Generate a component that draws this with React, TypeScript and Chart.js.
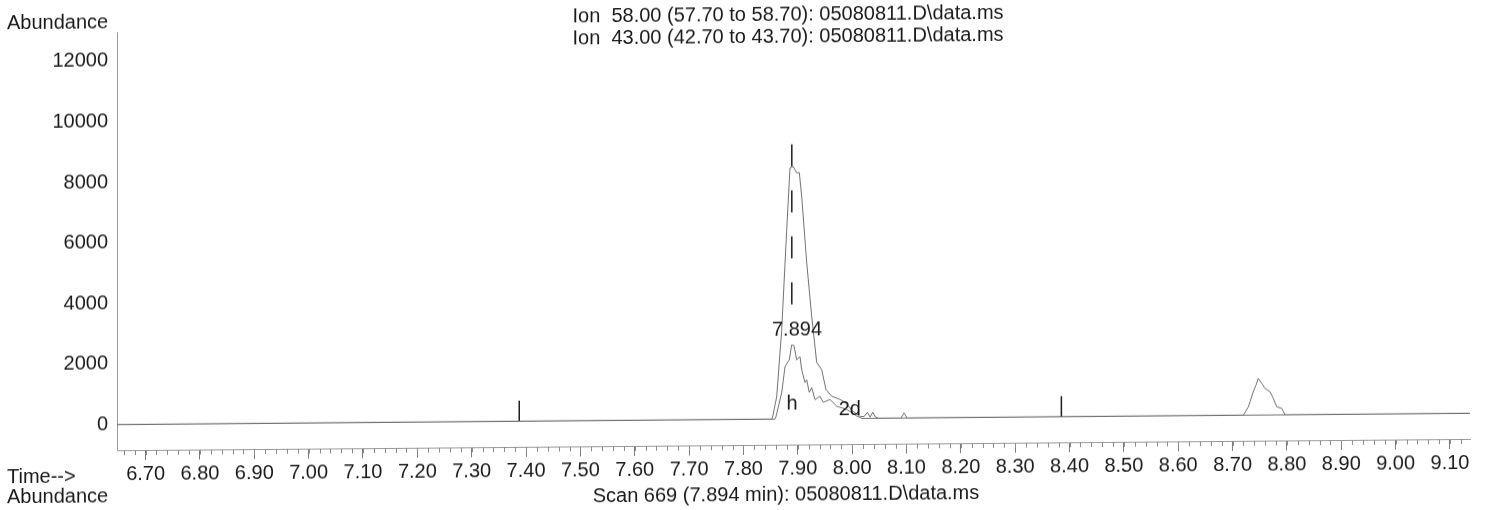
import React, { useEffect, useRef } from 'react';
import { Chart, registerables } from 'chart.js';

Chart.register(...registerables);

// ---- data (retention time in minutes, abundance) ----
const ION58_TIME = [
  6.6474, 7.852, 7.8538, 7.8612, 7.8704, 7.8796, 7.8857, 7.8917, 7.898, 7.9028,
  7.9072, 7.9164, 7.9256, 7.9348, 7.944, 7.9519, 7.9624, 7.9777, 7.985, 7.993,
  8.0, 8.008, 8.015, 8.022, 8.028, 8.033, 8.038, 8.043, 8.049, 8.09, 8.0955, 8.101,
  8.7197, 8.7289, 8.7381, 8.7431, 8.7473, 8.7536, 8.7596, 8.7688, 8.7749, 8.7812,
  8.7904, 8.7965, 9.1368,
];
const ION58_ABUND = [
  0, 0, 80, 740, 2940, 6240, 8290, 8330, 8120, 8130,
  7340, 5160, 3380, 1860, 1620, 960, 740, 630, 560, 420,
  260, 150, 60, 60, 200, 40, 200, 40, 0, 0, 170, 0,
  0, 270, 770, 990, 1210, 1050, 880, 770, 550, 270,
  220, 0, 0,
];
const ION43_TIME = [
  6.6474, 7.858, 7.8599, 7.8704, 7.8765, 7.8807, 7.8844, 7.8888, 7.893, 7.898,
  7.904, 7.9072, 7.9132, 7.9164, 7.9212, 7.9256, 7.9317, 7.9409, 7.9469, 7.9593,
  7.9716, 7.99, 8.0084, 8.018, 9.1368,
];
const ION43_ABUND = [
  0, 0, 80, 870, 1730, 1860, 1950, 2450, 2420, 1950,
  2060, 1620, 1200, 1290, 870, 1030, 630, 740, 540, 630,
  410, 300, 80, 0, 0,
];
const MARKER_TIMES = [7.3875, 8.385];
const MARKER_HEIGHT = 680;
const RT_TIME = 7.889;
const RT_RANGE = [9060, 3550];
const X_TICKS = [
  6.7, 6.8, 6.9, 7.0, 7.1, 7.2, 7.3, 7.4, 7.5, 7.6, 7.7, 7.8, 7.9,
  8.0, 8.1, 8.2, 8.3, 8.4, 8.5, 8.6, 8.7, 8.8, 8.9, 9.0, 9.1,
];
const Y_TICKS = [0, 2000, 4000, 6000, 8000, 10000, 12000];
const X_MIN = 6.6474;
const X_MAX = 9.1368;
const Y_MIN = -845;
const Y_MAX = 12950;
const ANNOTATIONS = [
  { text: '7.894', t: 7.8985, v: 2940 },
  { text: '2d', t: 7.9958, v: 300 },
  { text: 'h', t: 7.8894, v: 500 },
];
const TITLE_LINES = [
  'Ion  58.00 (57.70 to 58.70): 05080811.D\\data.ms',
  'Ion  43.00 (42.70 to 43.70): 05080811.D\\data.ms',
];
const FOOTER = 'Scan 669 (7.894 min): 05080811.D\\data.ms';

const FONT_FAMILY = '"Liberation Sans", Arial, sans-serif';
const TEXT_COLOR = '#1a1a1a';

const overlayPlugin = {
  id: 'overlay',
  afterDraw(chart: any) {
    const { ctx, chartArea } = chart;
    const x = chart.scales.x;
    const y = chart.scales.y;
    ctx.save();
    ctx.strokeStyle = '#8a8a8a';
    ctx.lineWidth = 1;
    for (let i = 0; i < 200; i++) {
      const t = 6.66 + i * 0.02;
      if (t > X_MAX) break;
      const px = Math.round(x.getPixelForValue(t)) + 0.5;
      ctx.beginPath();
      ctx.moveTo(px, chartArea.bottom);
      ctx.lineTo(px, chartArea.bottom + 5);
      ctx.stroke();
    }
    ctx.fillStyle = TEXT_COLOR;
    ctx.font = `20px ${FONT_FAMILY}`;
    ctx.textAlign = 'center';
    ctx.textBaseline = 'middle';
    ANNOTATIONS.forEach((a) => {
      ctx.fillText(a.text, x.getPixelForValue(a.t), y.getPixelForValue(a.v));
    });
    ctx.restore();
  },
};

export default function App() {
  const ref = useRef<HTMLCanvasElement | null>(null);

  useEffect(() => {
    if (!ref.current) return;
    const traceStyle = {
      borderColor: '#707070',
      borderWidth: 1,
      pointRadius: 0,
      tension: 0,
      fill: false,
    };
    const chart = new Chart(ref.current, {
      type: 'line',
      data: {
        datasets: [
          {
            ...traceStyle,
            data: ION58_TIME.map((t, i) => ({ x: t, y: ION58_ABUND[i] })),
          },
          {
            ...traceStyle,
            data: ION43_TIME.map((t, i) => ({ x: t, y: ION43_ABUND[i] })),
          },
          ...MARKER_TIMES.map((t) => ({
            data: [
              { x: t, y: 0 },
              { x: t, y: MARKER_HEIGHT },
            ],
            borderColor: '#1a1a1a',
            borderWidth: 1.5,
            pointRadius: 0,
          })),
          {
            data: [
              { x: RT_TIME, y: RT_RANGE[0] },
              { x: RT_TIME, y: RT_RANGE[1] },
            ],
            borderColor: '#1a1a1a',
            borderWidth: 1.5,
            borderDash: [22, 24],
            pointRadius: 0,
          },
        ],
      },
      options: {
        responsive: false,
        animation: false,
        layout: { padding: { top: 27, right: 18, left: 0, bottom: 0 } },
        plugins: { legend: { display: false }, tooltip: { enabled: false } },
        scales: {
          x: {
            type: 'linear',
            min: X_MIN,
            max: X_MAX,
            afterBuildTicks: (s: any) => {
              s.ticks = X_TICKS.map((v) => ({ value: v }));
            },
            afterFit: (s: any) => {
              s.height = 65;
            },
            grid: { drawOnChartArea: false, tickLength: 10, color: '#7a7a7a' },
            border: { color: '#9a9a9a' },
            ticks: {
              autoSkip: false,
              maxRotation: 0,
              padding: 2,
              color: TEXT_COLOR,
              font: { family: FONT_FAMILY, size: 20 },
              callback: (v: any) => Number(v).toFixed(2),
            },
          },
          y: {
            type: 'linear',
            min: Y_MIN,
            max: Y_MAX,
            afterBuildTicks: (s: any) => {
              s.ticks = Y_TICKS.map((v) => ({ value: v }));
            },
            afterFit: (s: any) => {
              s.width = 117;
            },
            grid: { drawOnChartArea: false, drawTicks: false },
            border: { color: '#9a9a9a' },
            ticks: {
              padding: 9,
              color: TEXT_COLOR,
              font: { family: FONT_FAMILY, size: 20 },
              callback: (v: any) => String(v),
            },
          },
        },
      },
      plugins: [overlayPlugin],
    } as any);
    return () => chart.destroy();
  }, []);

  const textStyle: React.CSSProperties = {
    position: 'absolute',
    font: `20px ${FONT_FAMILY}`,
    lineHeight: '20px',
    color: TEXT_COLOR,
    whiteSpace: 'pre',
  };

  return (
    <div
      style={{
        position: 'fixed',
        left: 0,
        top: 0,
        width: 1488,
        height: 510,
        background: '#fff',
        transform: 'skewY(-0.48deg)',
        transformOrigin: '744px 255px',
      }}
    >
      <canvas ref={ref} width={1488} height={510} style={{ position: 'absolute', left: 0, top: 0 }} />
      <div style={{ ...textStyle, left: 7, top: 6 }}>Abundance</div>
      <div style={{ ...textStyle, left: 788, top: 4, transform: 'translateX(-50%)' }}>{TITLE_LINES[0]}</div>
      <div style={{ ...textStyle, left: 788, top: 26, transform: 'translateX(-50%)' }}>{TITLE_LINES[1]}</div>
      <div style={{ ...textStyle, left: 7, top: 460 }}>Time--&gt;</div>
      <div style={{ ...textStyle, left: 7, top: 480 }}>Abundance</div>
      <div style={{ ...textStyle, left: 786, top: 484, transform: 'translateX(-50%)' }}>{FOOTER}</div>
    </div>
  );
}
